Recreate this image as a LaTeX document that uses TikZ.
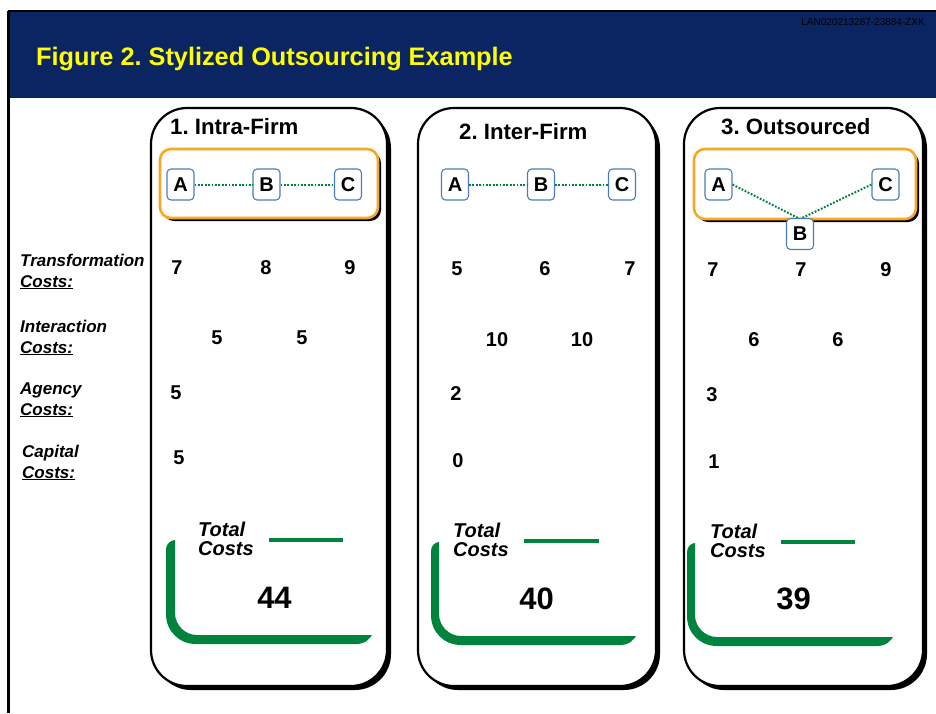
\documentclass[tikz,border=0pt]{standalone}
\usepackage{fontspec}
\setmainfont{Liberation Sans}
\frenchspacing
\definecolor{headnavy}{HTML}{0B2562}
\definecolor{headyellow}{HTML}{FFFF00}
\definecolor{firmorange}{HTML}{F9A825}
\definecolor{costgreen}{HTML}{00843D}
\definecolor{unitblue}{HTML}{4A7EBB}

% thick green bracket under "Total Costs":
% #1 outer left x, #2 inner left x, #3 top y, #4 outer bottom y, #5 inner bottom y, #6 right end x
\newcommand\costbracket[6]{%
  \fill[costgreen]
    (#1,#3+9) -- (#1,#4-30)
    .. controls (#1,#4-13) and (#1+13,#4) .. (#1+30,#4)
    -- (#6-16,#4)
    .. controls (#6-6,#4) and (#6-2,#5+3) .. (#6,#5)
    -- (#2+22,#5)
    .. controls (#2+10,#5) and (#2,#5-10) .. (#2,#5-22)
    -- (#2,#3)
    .. controls (#2-4,#3) and (#1,#3+4) .. (#1,#3+9) -- cycle;}

\begin{document}
\begin{tikzpicture}[x=1pt,y=-1pt,
  panel/.style={fill=white,draw=black,line width=2.2pt,rounded corners=36pt},
  panelshadow/.style={fill=black,rounded corners=36pt},
  firmframe/.style={fill=white,draw=firmorange,line width=2.6pt,rounded corners=11pt},
  firmshadow/.style={fill=black,rounded corners=11pt},
  unitbox/.style={draw=unitblue,fill=white,line width=1.1pt,rounded corners=4pt,
    minimum width=27pt,minimum height=31pt,inner sep=0pt,
    font=\fontsize{20}{20}\selectfont\bfseries},
  link/.style={draw=costgreen,line width=2pt,dash pattern=on 1.8pt off 1.6pt},
  num/.style={inner sep=0pt,font=\fontsize{20}{20}\selectfont\bfseries},
  totalnum/.style={inner sep=0pt,font=\fontsize{31}{31}\selectfont\bfseries},
  rowlabel/.style={anchor=base west,inner sep=0pt,font=\fontsize{17}{17}\selectfont\bfseries\itshape},
  totallabel/.style={anchor=base west,inner sep=0pt,font=\fontsize{20}{20}\selectfont\bfseries\itshape},
  paneltitle/.style={anchor=base west,inner sep=0pt,font=\fontsize{22.2}{22}\selectfont\bfseries},
  totalrule/.style={draw=costgreen,line width=3.5pt}]

\useasboundingbox (0,0) rectangle (936,713);
\fill[white] (0,0) rectangle (936,713);

% header band and frame
\fill[headnavy] (8,12) rectangle (936,98);
\draw[line width=2.5pt] (8,11) -- (936,11);
\draw[line width=2.5pt] (8.5,11) -- (8.5,713);
\node[anchor=east,inner sep=0pt,text=black,font=\fontsize{10}{10}\selectfont] (docid) at (925,22) {LAN020213287-23884-ZXK};
\node[anchor=base west,inner sep=0pt,text=headyellow,font=\fontsize{25.3}{26}\selectfont\bfseries] (title) at (36,65) {Figure 2. Stylized Outsourcing Example};

% three panels
\fill[panelshadow] (155,112) rectangle (391,690);
\draw[panel] (151,108) rectangle (387,686);
\fill[panelshadow] (422,112) rectangle (660,690);
\draw[panel] (418,108) rectangle (656,686);
\fill[panelshadow] (688,112) rectangle (927,690);
\draw[panel] (684,108) rectangle (923,686);

\node[paneltitle] (t1) at (170,134) {1. Intra-Firm};
\node[paneltitle] (t2) at (459,139) {2. Inter-Firm};
\node[paneltitle] (t3) at (721,134.5) {3. Outsourced};

% firm boundaries
\fill[firmshadow] (163,152) rectangle (381,221);
\draw[firmframe] (160,149) rectangle (378,218);
\fill[firmshadow] (697,152) rectangle (919,222);
\draw[firmframe] (694,149) rectangle (916,219);

% activity chains
\node[unitbox] (A1) at (180.5,184.5) {A};
\node[unitbox] (B1) at (266.5,184.5) {B};
\node[unitbox] (C1) at (348,184.5) {C};
\draw[link] (A1) -- (B1);
\draw[link] (B1) -- (C1);

\node[unitbox] (A2) at (455,184.5) {A};
\node[unitbox] (B2) at (541,184.5) {B};
\node[unitbox] (C2) at (622,184.5) {C};
\draw[link] (A2) -- (B2);
\draw[link] (B2) -- (C2);

\node[unitbox] (A3) at (718.5,184.5) {A};
\node[unitbox] (C3) at (885.5,184.5) {C};
\coordinate (B3top) at (800,219);
\draw[link] (A3.east) -- (B3top);
\draw[link] (C3.west) -- (B3top);
\node[unitbox] (B3) at (800,234) {B};

% row labels
\node[rowlabel] (lt1) at (20,266) {Transformation};
\node[rowlabel] (lt2) at (20,287) {\underline{Costs:}};
\node[rowlabel] (li1) at (20,332) {Interaction};
\node[rowlabel] (li2) at (20,353) {\underline{Costs:}};
\node[rowlabel] (la1) at (20,394) {Agency};
\node[rowlabel] (la2) at (20,415) {\underline{Costs:}};
\node[rowlabel] (lc1) at (22,457) {Capital};
\node[rowlabel] (lc2) at (22,478) {\underline{Costs:}};

% transformation costs
\node[num] (tr1a) at (177,268) {7};
\node[num] (tr1b) at (266,268) {8};
\node[num] (tr1c) at (350,268) {9};
\node[num] (tr2a) at (457,269) {5};
\node[num] (tr2b) at (545,269) {6};
\node[num] (tr2c) at (630,269) {7};
\node[num] (tr3a) at (713,270) {7};
\node[num] (tr3b) at (801,270) {7};
\node[num] (tr3c) at (886,270) {9};

% interaction costs
\node[num] (in1a) at (217,338) {5};
\node[num] (in1b) at (302,338) {5};
\node[num] (in2a) at (497,340) {10};
\node[num] (in2b) at (582,340) {10};
\node[num] (in3a) at (754,340) {6};
\node[num] (in3b) at (838,340) {6};

% agency costs
\node[num] (ag1) at (176,393) {5};
\node[num] (ag2) at (456,394) {2};
\node[num] (ag3) at (712,395) {3};

% capital costs
\node[num] (ca1) at (179,458) {5};
\node[num] (ca2) at (458,461) {0};
\node[num] (ca3) at (714,462) {1};

% totals
\costbracket{166}{175}{540}{644}{635}{372}
\draw[totalrule] (269,540) -- (343,540);
\node[totallabel] (tl1a) at (198,536) {Total};
\node[totallabel] (tl1b) at (198,555) {Costs};
\node[totalnum] (tot1) at (274.5,597.5) {44};

\costbracket{431}{439}{542}{645}{636}{636}
\draw[totalrule] (524,541) -- (599,541);
\node[totallabel] (tl2a) at (453,537) {Total};
\node[totallabel] (tl2b) at (453,556) {Costs};
\node[totalnum] (tot2) at (536.5,598.5) {40};

\costbracket{687}{695}{543}{646}{637}{893}
\draw[totalrule] (781,542) -- (855,542);
\node[totallabel] (tl3a) at (710,538) {Total};
\node[totallabel] (tl3b) at (710,557) {Costs};
\node[totalnum] (tot3) at (793.5,599) {39};
\end{tikzpicture}
\end{document}
